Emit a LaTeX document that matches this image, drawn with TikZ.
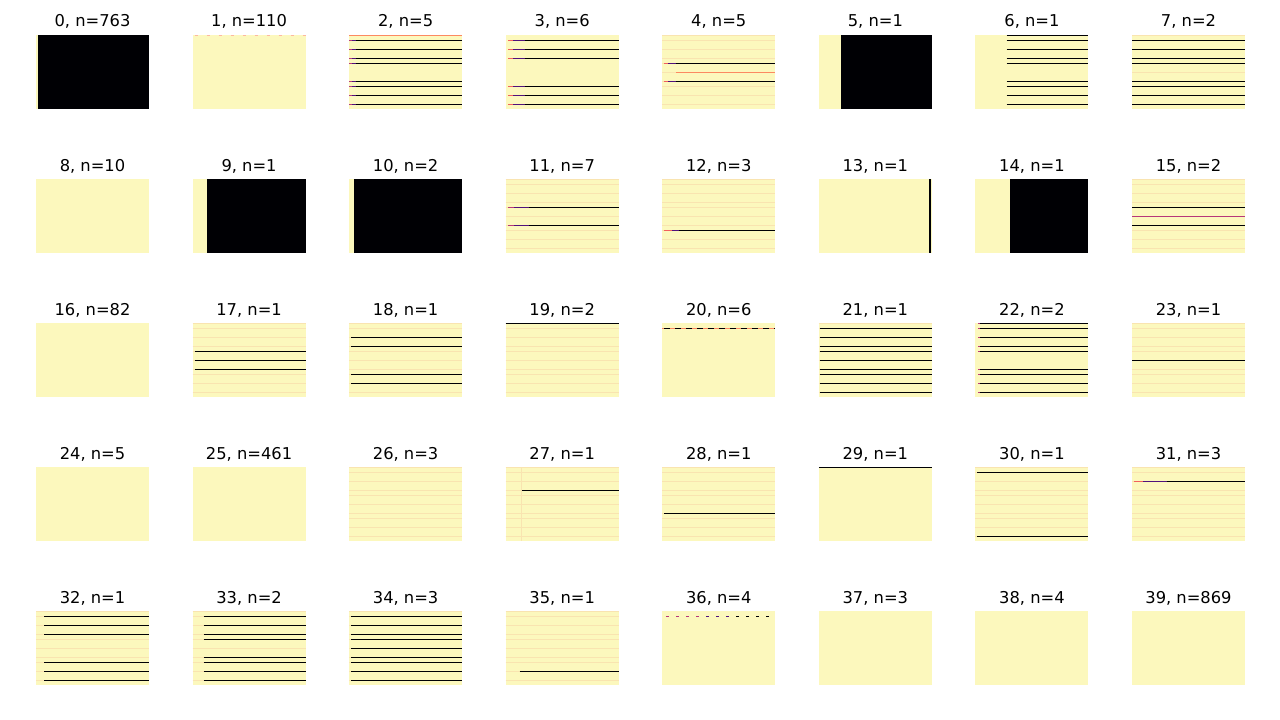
\documentclass[tikz,border=0pt]{standalone}
\usepackage{fontspec}
\setmainfont{DejaVu Sans}
\definecolor{pale}{RGB}{252,248,189}
\definecolor{mblack}{RGB}{0,0,4}
\definecolor{mpurple}{RGB}{80,18,123}
\definecolor{mmag}{RGB}{183,55,121}
\definecolor{mred}{RGB}{241,96,93}
\definecolor{morange}{RGB}{252,137,97}
\definecolor{faint}{RGB}{249,228,176}
\tikzset{
  panel/.style={draw=none, fill=pale, minimum width=113pt, minimum height=74pt, inner sep=0pt, outer sep=0pt, anchor=north west},
  ttl/.style={font=\fontsize{16.3}{18}\selectfont, anchor=base, inner sep=0pt},
  blk/.style={draw=mblack, line width=1.3pt},
  fnt/.style={draw=faint, line width=0.9pt},
}
\newcommand\hseg[3]{\draw[#3] (#1,#2) -- (113,#2);}
\newcommand\pseg[4]{\draw[#4] (#1,#3) -- (#2,#3);}
\newcommand\faintall{\foreach \yy in {0.5,5.5,14.5,23.5,28.5,37.5,46.5,51.5,60.5,69.5}{\draw[fnt] (0,\yy) -- (113,\yy);}}
\begin{document}
\begin{tikzpicture}[x=1pt,y=-1pt]
\useasboundingbox[fill=white] (0,0) rectangle (1280,720);
\foreach \k/\t in {0/763,1/110,2/5,3/6,4/5,5/1,6/1,7/2,8/10,9/1,10/2,11/7,12/3,13/1,14/1,15/2,16/82,17/1,18/1,19/2,20/6,21/1,22/2,23/1,24/5,25/461,26/3,27/1,28/1,29/1,30/1,31/3,32/1,33/2,34/3,35/1,36/4,37/3,38/4,39/869}{
  \pgfmathtruncatemacro\c{mod(\k,8)}
  \pgfmathtruncatemacro\r{floor(\k/8)}
  \node[panel] (p\k) at ({36+156.57*\c},{35+144*\r}) {};
  \node[ttl] (t\k) at ({92.5+156.57*\c},{27+144*\r}) {\k, n=\t};
}
% panel 0
\begin{scope}[shift={(p0.north west)}]\fill[mblack] (2,0) rectangle (113,74);\end{scope}
% panel 1
\begin{scope}[shift={(p1.north west)}]\draw[morange!60, line width=1pt, dash pattern=on 3pt off 9pt] (2,0.5) -- (113,0.5);\end{scope}
% panel 2
\begin{scope}[shift={(p2.north west)}]
  \hseg{0}{0.5}{draw=morange, line width=1pt}
  \foreach \yy in {5.5,14.5,23.5,28.5,46.5,51.5,60.5,69.5}{\hseg{0}{\yy}{blk}\pseg{0}{3}{\yy}{draw=mmag,line width=1.3pt}\pseg{3}{7}{\yy}{draw=mpurple,line width=1.3pt}}
\end{scope}
% panel 3
\begin{scope}[shift={(p3.north west)}]
  \foreach \yy in {5.5,14.5,23.5,51.5,60.5,69.5}{\hseg{7}{\yy}{blk}\pseg{2.5}{7.5}{\yy}{draw=mred,line width=1.3pt}\pseg{7.5}{19}{\yy}{draw=mpurple,line width=1.3pt}\hseg{19}{\yy}{blk}}
\end{scope}
% panel 4
\begin{scope}[shift={(p4.north west)}]
  \faintall
  \hseg{13.7}{37.5}{draw=morange, line width=1.1pt}
  \foreach \yy in {28.5,46.5}{\pseg{1.7}{6}{\yy}{draw=mred,line width=1.3pt}\pseg{6}{13.7}{\yy}{draw=mpurple,line width=1.3pt}\hseg{13.7}{\yy}{blk}}
\end{scope}
% panel 5
\begin{scope}[shift={(p5.north west)}]\fill[mblack] (22,0) rectangle (113,74);\end{scope}
% panel 6
\begin{scope}[shift={(p6.north west)}]
  \foreach \yy in {0.5,5.5,14.5,23.5,28.5,46.5,51.5,60.5,69.5}{\hseg{31.3}{\yy}{blk}}
\end{scope}
% panel 7
\begin{scope}[shift={(p7.north west)}]
  \faintall
  \foreach \yy in {5.5,14.5,23.5,28.5,46.5,51.5,60.5,69.5}{\hseg{0}{\yy}{blk}}
\end{scope}
% panel 9, 10
\begin{scope}[shift={(p9.north west)}]\fill[mblack] (14.4,0) rectangle (113,74);\end{scope}
\begin{scope}[shift={(p10.north west)}]\fill[mblack] (5,0) rectangle (113,74);\end{scope}
% panel 11
\begin{scope}[shift={(p11.north west)}]
  \faintall
  \foreach \yy in {28.5,46.5}{\pseg{2.5}{8.6}{\yy}{draw=mmag,line width=1.3pt}\pseg{8.6}{23}{\yy}{draw=mpurple,line width=1.3pt}\hseg{23}{\yy}{blk}}
\end{scope}
% panel 12
\begin{scope}[shift={(p12.north west)}]
  \faintall
  \pseg{1.7}{10}{51.5}{draw=mred,line width=1.3pt}\pseg{10}{16.5}{51.5}{draw=mpurple,line width=1.3pt}\hseg{16.5}{51.5}{blk}
\end{scope}
% panel 13
\begin{scope}[shift={(p13.north west)}]\fill[mblack] (110,0) rectangle (112.5,74);\end{scope}
% panel 14
\begin{scope}[shift={(p14.north west)}]\fill[mblack] (34.4,0) rectangle (113,74);\end{scope}
% panel 15
\begin{scope}[shift={(p15.north west)}]
  \faintall
  \hseg{0}{28.5}{blk}\hseg{0}{37.5}{draw=mmag,line width=1.3pt}\hseg{0}{46.5}{blk}
\end{scope}
% panel 17
\begin{scope}[shift={(p17.north west)}]
  \faintall
  \foreach \yy in {28.5,37.5,46.5}{\hseg{2}{\yy}{blk}}
\end{scope}
% panel 18
\begin{scope}[shift={(p18.north west)}]
  \faintall
  \foreach \yy in {14.5,23.5,51.5,60.5}{\hseg{2}{\yy}{blk}}
\end{scope}
% panel 19
\begin{scope}[shift={(p19.north west)}]
  \faintall
  \hseg{0}{0.5}{blk}
\end{scope}
% panel 20
\begin{scope}[shift={(p20.north west)}]
  \hseg{0}{5.5}{draw=morange, line width=1.2pt}
  \draw[blk, dash pattern=on 6pt off 5pt] (2,5.5) -- (113,5.5);
\end{scope}
% panel 21
\begin{scope}[shift={(p21.north west)}]
  \faintall
  \foreach \yy in {5.5,14.5,23.5,28.5,37.5,46.5,51.5,60.5,69.5}{\hseg{1}{\yy}{blk}}
\end{scope}
% panel 22
\begin{scope}[shift={(p22.north west)}]
  \foreach \yy in {0.5,5.5,14.5,23.5,28.5,46.5,51.5,60.5,69.5}{\hseg{2.6}{\yy}{blk}\pseg{2.6}{4.6}{\yy}{draw=mmag,line width=1.3pt}}
\end{scope}
% panel 23
\begin{scope}[shift={(p23.north west)}]
  \faintall
  \hseg{0}{37.5}{blk}
\end{scope}
% panel 26
\begin{scope}[shift={(p26.north west)}]\faintall\end{scope}
% panel 27
\begin{scope}[shift={(p27.north west)}]
  \faintall
  \draw[fnt] (16,0) -- (16,74);
  \hseg{16}{23.5}{blk}
\end{scope}
% panel 28
\begin{scope}[shift={(p28.north west)}]
  \faintall
  \hseg{2}{46.5}{blk}
\end{scope}
% panel 29
\begin{scope}[shift={(p29.north west)}]\hseg{0}{0.5}{blk}\end{scope}
% panel 30
\begin{scope}[shift={(p30.north west)}]
  \faintall
  \hseg{2}{5.5}{blk}\hseg{2}{69.5}{blk}
\end{scope}
% panel 31
\begin{scope}[shift={(p31.north west)}]
  \faintall
  \pseg{1.9}{10.9}{14.5}{draw=mred,line width=1.3pt}\pseg{10.9}{34.5}{14.5}{draw=mpurple,line width=1.3pt}\hseg{34.5}{14.5}{blk}
\end{scope}
% panel 32
\begin{scope}[shift={(p32.north west)}]
  \faintall
  \foreach \yy in {5.5,14.5,23.5,51.5,60.5,69.5}{\hseg{8}{\yy}{blk}}
\end{scope}
% panel 33
\begin{scope}[shift={(p33.north west)}]
  \faintall
  \foreach \yy in {5.5,14.5,23.5,28.5,46.5,51.5,60.5,69.5}{\hseg{11}{\yy}{blk}}
\end{scope}
% panel 34
\begin{scope}[shift={(p34.north west)}]
  \faintall
  \foreach \yy in {5.5,14.5,23.5,28.5,37.5,46.5,51.5,60.5,69.5}{\hseg{2}{\yy}{blk}}
\end{scope}
% panel 35
\begin{scope}[shift={(p35.north west)}]
  \faintall
  \hseg{14}{60.5}{blk}
\end{scope}
% panel 36
\begin{scope}[shift={(p36.north west)}]
  \draw[draw=mmag, line width=1.2pt, dash pattern=on 3pt off 7pt] (4,5.5) -- (44,5.5);
  \draw[draw=mpurple, line width=1.2pt, dash pattern=on 3pt off 7pt] (44,5.5) -- (74,5.5);
  \draw[draw=mblack, line width=1.2pt, dash pattern=on 3pt off 7pt] (74,5.5) -- (113,5.5);
\end{scope}
\end{tikzpicture}
\end{document}
